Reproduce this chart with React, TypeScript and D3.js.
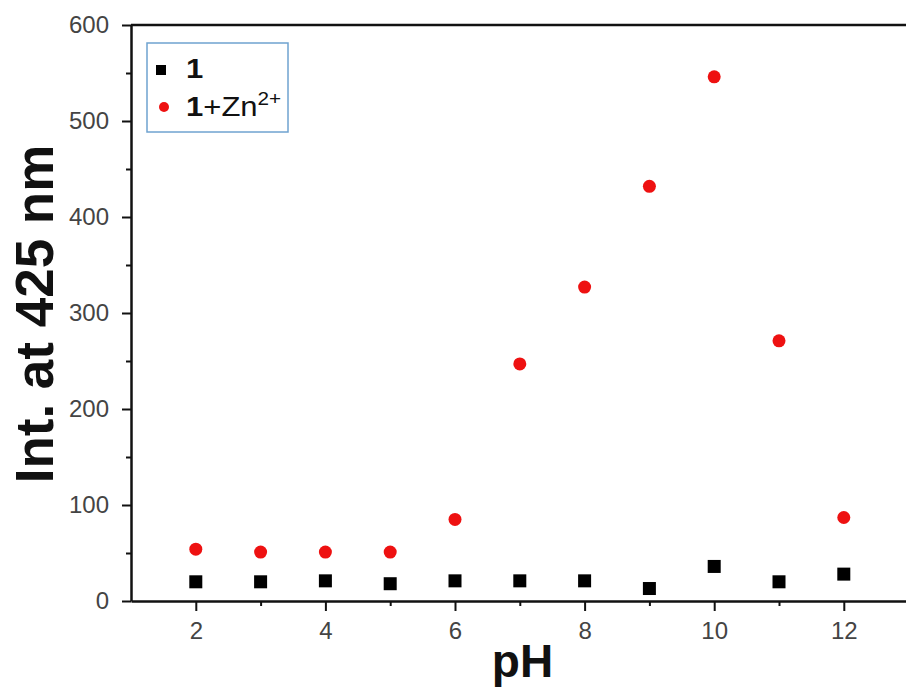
import React, { useRef, useEffect } from "react";
import { select, scaleLinear, axisBottom, axisLeft, range } from "d3";

const phValues = [2, 3, 4, 5, 6, 7, 8, 9, 10, 11, 12];
const probeOnly = [20, 20, 21, 18, 21, 21, 21, 13, 36, 20, 28];
const probeZn = [54, 51, 51, 51, 85, 247, 327, 432, 546, 271, 87];
const yTicks = [0, 100, 200, 300, 400, 500, 600];
const xTicks = [2, 4, 6, 8, 10, 12];

const W = 906;
const H = 691;
const FONT = "Arial, Liberation Sans, sans-serif";

const App = () => {
  const svgRef = useRef<SVGSVGElement>(null);

  useEffect(() => {
    const svg = select(svgRef.current);
    svg.selectAll("*").remove();

    const x = scaleLinear().domain([1, 13]).range([131, 131 + 12 * 64.8]);
    const y = scaleLinear().domain([0, 600]).range([601, 25]);

    // minor ticks first
    svg
      .append("g")
      .attr("transform", "translate(0,601)")
      .call(axisBottom(x).tickValues(range(3, 13, 2)).tickSize(5).tickFormat(() => ""))
      .call((g) => g.select(".domain").remove())
      .call((g) => g.selectAll("line").attr("stroke", "#111").attr("stroke-width", 2));
    svg
      .append("g")
      .attr("transform", "translate(131,0)")
      .call(axisLeft(y).tickValues(range(50, 600, 100)).tickSize(5).tickFormat(() => ""))
      .call((g) => g.select(".domain").remove())
      .call((g) => g.selectAll("line").attr("stroke", "#111").attr("stroke-width", 2));

    const xAxis = axisBottom(x).tickValues(xTicks).tickSize(10).tickPadding(11).tickSizeOuter(0);
    svg
      .append("g")
      .attr("transform", "translate(0,601)")
      .call(xAxis)
      .call((g) => g.select(".domain").attr("stroke", "#111").attr("stroke-width", 2.5))
      .call((g) => g.selectAll("line").attr("stroke", "#111").attr("stroke-width", 2))
      .call((g) => g.selectAll("text").attr("fill", "#444").attr("font-size", 24).attr("font-family", FONT));

    const yAxis = axisLeft(y).tickValues(yTicks).tickSize(9).tickPadding(13).tickSizeOuter(0);
    svg
      .append("g")
      .attr("transform", "translate(131,0)")
      .call(yAxis)
      .call((g) => g.select(".domain").attr("stroke", "#111").attr("stroke-width", 2.5))
      .call((g) => g.selectAll("line").attr("stroke", "#111").attr("stroke-width", 2))
      .call((g) => g.selectAll("text").attr("fill", "#444").attr("font-size", 24).attr("font-family", FONT));

    // top frame
    svg
      .append("line")
      .attr("x1", x(1))
      .attr("x2", W)
      .attr("y1", y(600))
      .attr("y2", y(600))
      .attr("stroke", "#111")
      .attr("stroke-width", 2.5);

    svg
      .selectAll(".sq")
      .data(phValues)
      .join("rect")
      .attr("class", "sq")
      .attr("x", (d) => x(d) - 6.5)
      .attr("y", (d, i) => y(probeOnly[i]) - 6.5)
      .attr("width", 13)
      .attr("height", 13)
      .attr("fill", "#000");

    svg
      .selectAll(".dot")
      .data(phValues)
      .join("circle")
      .attr("class", "dot")
      .attr("cx", (d) => x(d))
      .attr("cy", (d, i) => y(probeZn[i]))
      .attr("r", 6.5)
      .attr("fill", "#ee1111");

    // axis titles
    svg
      .append("text")
      .attr("x", (131 + W) / 2 + 4)
      .attr("y", 677)
      .attr("text-anchor", "middle")
      .attr("font-family", FONT)
      .attr("font-weight", "bold")
      .attr("font-size", 46)
      .attr("fill", "#111")
      .text("pH");

    svg
      .append("text")
      .attr("transform", "translate(53,314) rotate(-90)")
      .attr("text-anchor", "middle")
      .attr("font-family", FONT)
      .attr("font-weight", "bold")
      .attr("font-size", 53)
      .attr("fill", "#111")
      .text("Int. at 425 nm");

    // legend
    const lg = svg.append("g").attr("font-family", FONT).attr("fill", "#111");
    lg.append("rect")
      .attr("x", 147)
      .attr("y", 43)
      .attr("width", 141)
      .attr("height", 89)
      .attr("fill", "#fff")
      .attr("stroke", "#6fa3d0")
      .attr("stroke-width", 1.5);
    lg.append("rect").attr("x", 156).attr("y", 65).attr("width", 10).attr("height", 10).attr("fill", "#000");
    lg.append("text")
      .attr("transform", "translate(186,78) scale(1.15,1)")
      .attr("font-size", 27)
      .attr("font-weight", "bold")
      .text("1");
    lg.append("circle").attr("cx", 164).attr("cy", 107).attr("r", 5).attr("fill", "#ee1111");
    const t2 = lg.append("text").attr("transform", "translate(186,116) scale(1.15,1)").attr("font-size", 27);
    t2.append("tspan").attr("font-weight", "bold").text("1");
    t2.append("tspan").text("+Zn");
    t2.append("tspan").attr("font-size", 18).attr("dy", -11).text("2+");
  }, []);

  return (
    <svg
      ref={svgRef}
      width={W}
      height={H}
      style={{ position: "absolute", left: 0, top: 0, background: "#fff" }}
    />
  );
};

export default App;
